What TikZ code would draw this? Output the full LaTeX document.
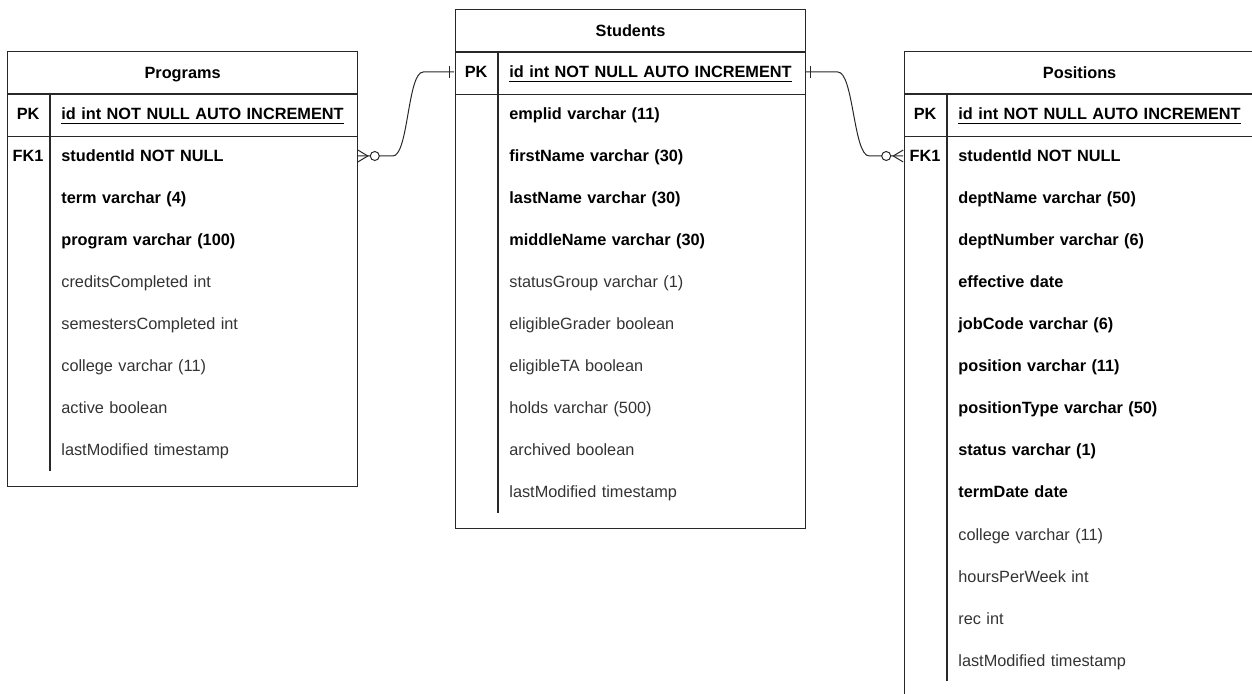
\documentclass[tikz,border=0pt]{standalone}
\usepackage{fontspec}
\setmainfont{Liberation Sans}
\usetikzlibrary{positioning}
\usetikzlibrary{calc}
\definecolor{ln}{RGB}{40,40,40}
\definecolor{tx}{RGB}{51,51,51}
\def\rowh{21pt}
\def\tabw{175pt}
\def\keyw{21.5pt}
\newcommand{\erfont}{\fontsize{8.15pt}{10pt}\selectfont}
\newcommand{\entry}[6]{\node[keycell] (#3k) at (#1,#2) {#4};
	\node[#6] (#3) at (#1,#2) {#5}; }
\tikzset{
	tablebox/.style={draw=ln,line width=0.6pt,anchor=north west,minimum width=\tabw,inner sep=0pt},
	headcell/.style={draw=ln,line width=0.6pt,anchor=north west,minimum width=\tabw,minimum height=\rowh,inner sep=0pt,text height=7pt,text depth=1pt,font=\erfont\bfseries},
	keycell/.style={anchor=east,minimum width=\keyw,minimum height=\rowh,inner sep=0pt,text height=7pt,text depth=1pt,font=\erfont\bfseries},
	field/.style={anchor=west,text width=142.5pt,align=left,minimum height=\rowh,inner xsep=5.5pt,inner ysep=0pt,text height=7pt,text depth=1pt,font=\erfont},
	boldfield/.style={field,font=\erfont\bfseries},
	plainfield/.style={field,text=tx},
	sepline/.style={draw=ln,line width=0.6pt},
	rel/.style={draw=ln,line width=0.5pt}
}

\begin{document}
\begin{tikzpicture}[x=0.5pt,y=-0.5pt]
\clip (0,0) rectangle (1252,694);

% Programs
\node[tablebox,minimum height=217.5pt] (programs) at (7,51) {};
\node[headcell] (programsh) at (programs.north west) {Programs};
\node[headcell] (programspk) at (programsh.south west) {};
\entry{50}{114}{progid}{PK}{\underline{id int NOT NULL AUTO INCREMENT}}{boldfield}
\entry{50}{156}{progstudent}{FK1}{studentId NOT NULL}{boldfield}
\entry{50}{198}{progterm}{}{term varchar (4)}{boldfield}
\entry{50}{240}{progprogram}{}{program varchar (100)}{boldfield}
\entry{50}{282}{progcredits}{}{creditsCompleted int}{plainfield}
\entry{50}{324}{progsemesters}{}{semestersCompleted int}{plainfield}
\entry{50}{366}{progcollege}{}{college varchar (11)}{plainfield}
\entry{50}{408}{progactive}{}{active boolean}{plainfield}
\entry{50}{450}{proglast}{}{lastModified timestamp}{plainfield}
\draw[sepline] (progidk.north east) -- (proglastk.south east);

% Students
\node[tablebox,minimum height=259.5pt] (students) at (455,9) {};
\node[headcell] (studentsh) at (students.north west) {Students};
\node[headcell] (studentspk) at (studentsh.south west) {};
\entry{498}{72}{stuid}{PK}{\underline{id int NOT NULL AUTO INCREMENT}}{boldfield}
\entry{498}{114}{stuemplid}{}{emplid varchar (11)}{boldfield}
\entry{498}{156}{stufirst}{}{firstName varchar (30)}{boldfield}
\entry{498}{198}{stulast}{}{lastName varchar (30)}{boldfield}
\entry{498}{240}{stumiddle}{}{middleName varchar (30)}{boldfield}
\entry{498}{282}{stustatus}{}{statusGroup varchar (1)}{plainfield}
\entry{498}{324}{stugrader}{}{eligibleGrader boolean}{plainfield}
\entry{498}{366}{stuta}{}{eligibleTA boolean}{plainfield}
\entry{498}{408}{stuholds}{}{holds varchar (500)}{plainfield}
\entry{498}{450}{stuarchived}{}{archived boolean}{plainfield}
\entry{498}{492}{stumodified}{}{lastModified timestamp}{plainfield}
\draw[sepline] (stuidk.north east) -- (stumodifiedk.south east);

% Positions (cut off at the right and bottom edge)
\node[tablebox,minimum height=322.5pt] (positions) at (904,51) {};
\node[headcell] (positionsh) at (positions.north west) {Positions};
\node[headcell] (positionspk) at (positionsh.south west) {};
\entry{947}{114}{posid}{PK}{\underline{id int NOT NULL AUTO INCREMENT}}{boldfield}
\entry{947}{156}{posstudent}{FK1}{studentId NOT NULL}{boldfield}
\entry{947}{198}{posdeptname}{}{deptName varchar (50)}{boldfield}
\entry{947}{240}{posdeptnum}{}{deptNumber varchar (6)}{boldfield}
\entry{947}{282}{poseffective}{}{effective date}{boldfield}
\entry{947}{324}{posjob}{}{jobCode varchar (6)}{boldfield}
\entry{947}{366}{posposition}{}{position varchar (11)}{boldfield}
\entry{947}{408}{postype}{}{positionType varchar (50)}{boldfield}
\entry{947}{450}{posstatus}{}{status varchar (1)}{boldfield}
\entry{947}{492}{posterm}{}{termDate date}{boldfield}
\entry{947}{534}{poscollege}{}{college varchar (11)}{plainfield}
\entry{947}{576}{poshours}{}{hoursPerWeek int}{plainfield}
\entry{947}{618}{posrec}{}{rec int}{plainfield}
\entry{947}{660}{posmodified}{}{lastModified timestamp}{plainfield}
\draw[sepline] (posidk.north east) -- (posmodifiedk.south east);

% relations
\draw[rel] (progstudent.east) -- ++(35,0) to[out=0,in=180,looseness=0.45] ($(stuidk.west)+(-31,0)$) -- (stuidk.west);
\draw[rel] ($(progstudent.east)+(0,-6)$) -- ++(10,6) -- ++(-10,6);
\draw[rel,fill=white] ($(progstudent.east)+(17,0)$) circle (2.25pt);
\draw[rel] ($(stuidk.west)+(-5,-6)$) -- ++(0,12);

\draw[rel] (stuid.east) -- ++(32,0) to[out=0,in=180,looseness=0.45] ($(posstudentk.west)+(-34,0)$) -- (posstudentk.west);
\draw[rel] ($(posstudentk.west)+(0,-6)$) -- ++(-10,6) -- ++(10,6);
\draw[rel,fill=white] ($(posstudentk.west)+(-17,0)$) circle (2.25pt);
\draw[rel] ($(stuid.east)+(5,-6)$) -- ++(0,12);
\end{tikzpicture}
\end{document}
